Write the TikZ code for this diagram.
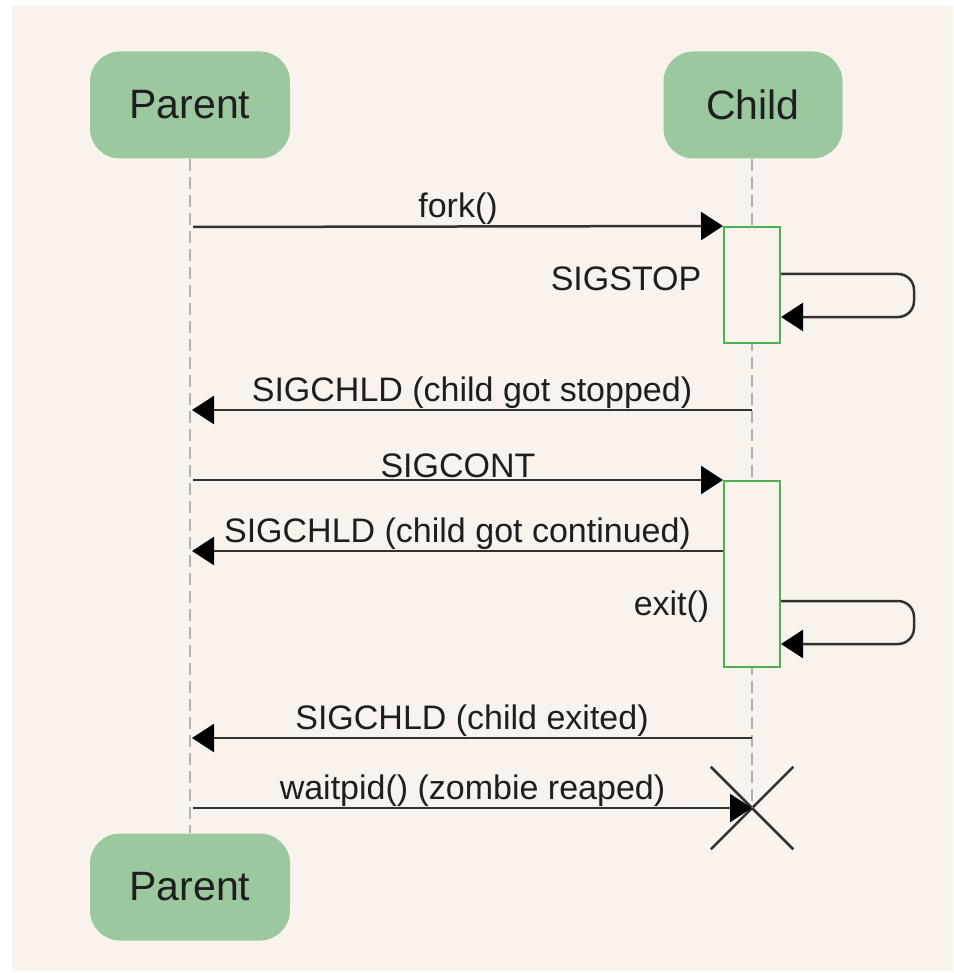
\documentclass[tikz,border=0pt]{standalone}
\usepackage{fontspec}
\setmainfont{Liberation Sans}
\usetikzlibrary{arrows.meta,shapes.misc}
\definecolor{paper}{RGB}{250,243,237}
\definecolor{actorgreen}{RGB}{155,200,158}
\definecolor{actgreen}{RGB}{76,178,80}
\definecolor{ink}{RGB}{30,30,30}
\definecolor{wire}{RGB}{50,50,50}
\tikzset{
  actor/.style={
    rectangle,
    rounded corners=30pt,
    fill=actorgreen,
    minimum width=200pt,
    minimum height=107pt,
    text=ink,
    font=\fontsize{41}{48}\selectfont,
  },
  lifeline/.style={
    draw=black!30,
    line width=1.5pt,
    dash pattern=on 12pt off 6pt,
  },
  activation/.style={
    rectangle,
    draw=actgreen,
    fill=paper,
    line width=2pt,
    minimum width=56pt,
    inner sep=0pt,
  },
  msg/.style={
    draw=wire,
    line width=2.5pt,
    -{Triangle[length=22pt,width=28pt,color=black]},
  },
  msglabel/.style={
    text=ink,
    inner sep=0.5pt,
    font=\fontsize{34}{40}\selectfont,
  },
  reaped/.style={
    cross out,
    draw=wire,
    line width=2.5pt,
    minimum size=80pt,
    inner sep=0pt,
  }
}

\begin{document}
\begin{tikzpicture}[x=1pt,y=-1pt]
\useasboundingbox (0,0) rectangle (953,973);
\fill[white] (0,0) rectangle (953,973);
\fill[paper] (12,6) rectangle (953,971);

\node[actor] (parent) at (190,105) {Parent};
\node[actor, minimum width=179pt] (child) at (753,105) {Child};
\node[actor] (parentend) at (190,887) {Parent};

\foreach \name/\y in {fork/227, stopped/410, cont/480, contd/551, exited/738, reap/808}
{
  \coordinate (p-\name) at (190,\y);
  \coordinate (c-\name) at (752,\y);
}

\node[reaped] (zombie) at (c-reap) {};

\draw[lifeline] (parent) -- (parentend);
\draw[lifeline] (child.south -| c-reap) -- (zombie.center);

\node[activation, minimum height=116pt] (act1) at (752,285) {};
\node[activation, minimum height=186pt] (act2) at (752,574) {};

\draw[msg] ([xshift=3pt]p-fork) -- (act1.north west)
  node[msglabel, midway, above] {fork()};
\draw[msg, rounded corners=16pt] ([yshift=-48pt]act1.north east) -- ++(133,0)
  |- ([yshift=-91pt]act1.north east);
\node[msglabel, anchor=east] at (702,279) {SIGSTOP};

\draw[msg] (c-stopped) -- ([xshift=2pt]p-stopped)
  node[msglabel, midway, above] {SIGCHLD (child got stopped)};

\draw[msg] ([xshift=3pt]p-cont) -- (act2.north west)
  node[msglabel, midway, above] {SIGCONT};
\draw[msg] (act2.west |- c-contd) -- ([xshift=2pt]p-contd)
  node[msglabel, midway, above] {SIGCHLD (child got continued)};
\draw[msg, rounded corners=16pt] ([yshift=-121pt]act2.north east) -- ++(133,0)
  |- ([yshift=-164pt]act2.north east);
\node[msglabel, anchor=east] at (710,607) {exit()};

\draw[msg] (c-exited) -- ([xshift=2pt]p-exited)
  node[msglabel, midway, above] {SIGCHLD (child exited)};
\draw[msg] ([xshift=3pt]p-reap) -- (zombie.center)
  node[msglabel, midway, above] {waitpid() (zombie reaped)};
\end{tikzpicture}
\end{document}
